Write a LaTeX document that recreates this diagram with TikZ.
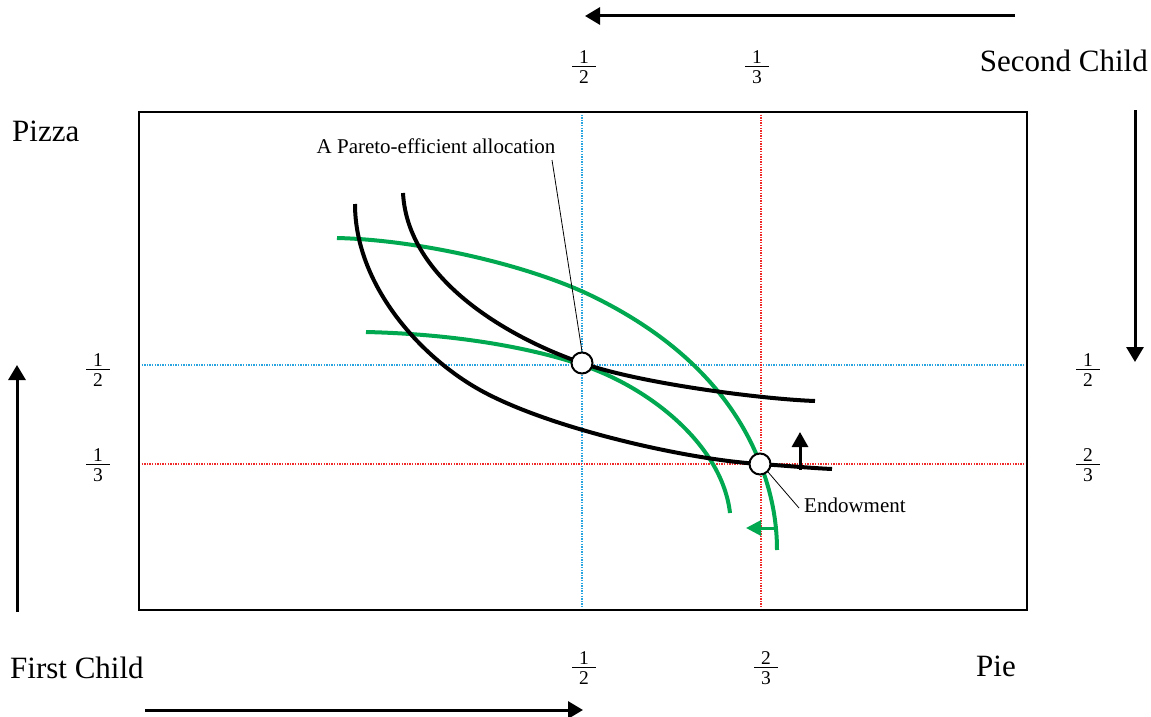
\documentclass[tikz,border=0pt]{standalone}
\usepackage{fontspec}
\setmainfont{Liberation Serif}
\usetikzlibrary{arrows.meta}
\definecolor{grn}{RGB}{0,168,80}
\definecolor{lblue}{RGB}{40,165,225}
\definecolor{lred}{RGB}{240,40,40}
\newcommand\fr[2]{\vbox{\hbox to 24pt{\hfil#1\hfil}\kern3pt\hrule height 1pt\kern3pt\hbox to 24pt{\hfil#2\hfil}}}
\tikzset{
  bigtxt/.style={font=\fontsize{31}{36}\selectfont, inner sep=0pt},
  smalltxt/.style={font=\fontsize{21}{24}\selectfont, inner sep=0pt},
  frac/.style={font=\fontsize{19.5}{20}\selectfont, inner sep=0pt},
  axisarrow/.style={line width=3pt, -{Triangle[length=15pt,width=17pt]}},
  icurve/.style={line width=4pt, black},
  gcurve/.style={line width=4pt, grn},
  guide/.style={line width=1.3pt, dash pattern=on 1.3pt off 1.3pt},
  dot/.style={circle, draw=black, fill=white, line width=2pt, minimum size=21pt, inner sep=0pt},
  leader/.style={line width=0.8pt},
}
\begin{document}
\begin{tikzpicture}[x=1pt,y=-1pt]
\useasboundingbox (0,0) rectangle (1151,717);
% guide lines
\draw[guide, lblue] (582,112) -- (582,610);
\draw[guide, lblue] (139,365) -- (1027,365);
\draw[guide, lred] (761,112) -- (761,610);
\draw[guide, lred] (139,464) -- (1027,464);
% frame
\draw[line width=2pt] (139,112) rectangle (1027,610);
% green curves
\draw[gcurve] (337,238) .. controls (420,240) and (527,265) .. (590,295)
  .. controls (671,334) and (731,389) .. (760,463)
  .. controls (771,491) and (777,520) .. (777,550);
\draw[gcurve] (366,332) .. controls (450,334) and (525,346) .. (582,365)
  .. controls (648,387) and (722,444) .. (730,513);
% black curves
\draw[icurve] (355,204) .. controls (355,284) and (419,356) .. (480,390)
  .. controls (550,429) and (690,460) .. (760,464)
  .. controls (790,466) and (810,468) .. (832,469);
\draw[icurve] (403,193) .. controls (408,285) and (520,342) .. (582,363)
  .. controls (638,383) and (760,399) .. (815,401);
% small arrows
\coordinate (ua) at (800,470);
\coordinate (ub) at (800,432);
\draw[line width=3pt, -{Triangle[length=15pt,width=16pt]}] (ua) -- (ub);
\coordinate (ga) at (775,528);
\coordinate (gb) at (746,528);
\draw[line width=3pt, grn, -{Triangle[length=15pt,width=15pt]}] (ga) -- (gb);
% points
\node[dot] (pe) at (582,363) {};
\node[dot] (en) at (760,464) {};
% labels
\node[smalltxt, anchor=base] (pelab) at (436,153) {A Pareto-efficient allocation};
\coordinate (pel) at (552,160);
\draw[leader] (pel) -- (pe.north);
\node[smalltxt, anchor=base west] (enlab) at (804,512) {Endowment};
\coordinate (enl) at (799,508);
\draw[leader] (enl) -- (en.south east);
% outer arrows
\coordinate (t1) at (1015,16); \coordinate (t2) at (585,16);
\draw[axisarrow] (t1) -- (t2);
\coordinate (b1) at (145,710); \coordinate (b2) at (583,710);
\draw[axisarrow] (b1) -- (b2);
\coordinate (l1) at (17,612); \coordinate (l2) at (17,365);
\draw[axisarrow] (l1) -- (l2);
\coordinate (r1) at (1135,110); \coordinate (r2) at (1135,362);
\draw[axisarrow] (r1) -- (r2);
% big texts
\node[bigtxt, anchor=base east] (sc) at (1148,72) {Second Child};
\node[bigtxt, anchor=base west] (pz) at (12,141) {Pizza};
\node[bigtxt, anchor=base west] (fc) at (10,678) {First Child};
\node[bigtxt, anchor=base west] (pi) at (976,676) {Pie};
% fractions
\node[frac] (ft1) at (584,67) {\fr{1}{2}};
\node[frac] (ft2) at (757,67) {\fr{1}{3}};
\node[frac] (fl1) at (98,370) {\fr{1}{2}};
\node[frac] (fl2) at (98,465) {\fr{1}{3}};
\node[frac] (fr1) at (1088,370) {\fr{1}{2}};
\node[frac] (fr2) at (1088,465) {\fr{2}{3}};
\node[frac] (fb1) at (584,668) {\fr{1}{2}};
\node[frac] (fb2) at (766,668) {\fr{2}{3}};
\end{tikzpicture}
\end{document}
